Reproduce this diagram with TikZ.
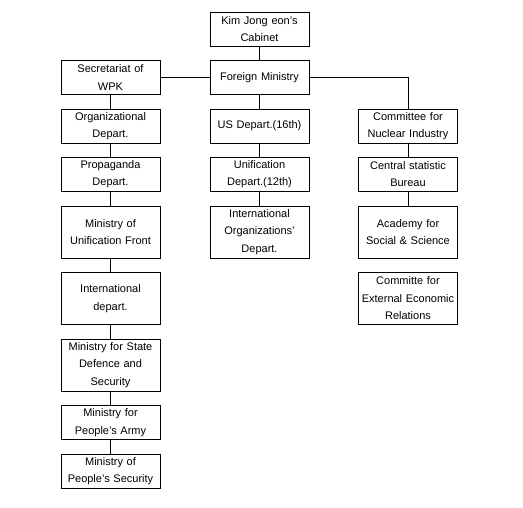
\documentclass[tikz,border=0pt]{standalone}
\usepackage{fontspec}
\setmainfont{Liberation Sans}
\usetikzlibrary{positioning}
\tikzset{
    unit/.style={
        draw,line width=0.7pt,align=center,text width=97pt,
        minimum width=99pt,minimum height=#1,inner sep=1pt,
        font=\fontsize{11}{17.5}\selectfont
    },
    unit/.default=34pt,
    link/.style={line width=0.7pt}
}
\begin{document}
\begin{tikzpicture}[x=1pt,y=-1pt]
\useasboundingbox (0,0) rectangle (523,507);

% top
\node[unit] (cabinet) at (259.5,29) {Kim Jong eon's\\Cabinet};
\node[unit] (foreign) at (259.5,77.5) {Foreign Ministry};

% left column
\node[unit] (wpk) at (110.5,77.5) {Secretariat of\\WPK};
\node[unit] (orgdep) at (110.5,126) {Organizational\\Depart.};
\node[unit] (propdep) at (110.5,174) {Propaganda\\Depart.};
\node[unit=52pt] (front) at (110.5,232) {Ministry of\\Unification Front};
\node[unit=52pt] (intdep) at (110.5,298.5) {International\\depart.};
\node[unit=52pt] (defence) at (110.5,365) {Ministry for State\\Defence and\\Security};
\node[unit] (army) at (110.5,422.5) {Ministry for\\People's Army};
\node[unit] (security) at (110.5,471) {Ministry of\\People's Security};

% middle column
\node[unit] (usdep) at (259.5,126) {US Depart.(16th)};
\node[unit] (unidep) at (259.5,174) {Unification\\Depart.(12th)};
\node[unit=52pt] (intorg) at (259.5,232) {International\\Organizations'\\Depart.};

% right column
\node[unit] (nuclear) at (408,126) {Committee for\\Nuclear Industry};
\node[unit] (stat) at (408,174) {Central statistic\\Bureau};
\node[unit=52pt] (academy) at (408,232) {Academy for\\Social \& Science};
\node[unit=52pt] (external) at (408,298.5) {Committe for\\External Economic\\Relations};

% connectors
\draw[link] (cabinet) -- (foreign);
\draw[link] (wpk) -- (foreign);
\draw[link] (foreign.east) -| (nuclear.north);
\draw[link] (foreign) -- (usdep);
\draw[link] (usdep) -- (unidep);
\draw[link] (unidep) -- (intorg);
\draw[link] (wpk) -- (orgdep);
\draw[link] (orgdep) -- (propdep);
\draw[link] (propdep) -- (front);
\draw[link] (front) -- (intdep);
\draw[link] (intdep) -- (defence);
\draw[link] (defence) -- (army);
\draw[link] (army) -- (security);
\draw[link] (nuclear) -- (stat);
\draw[link] (stat) -- (academy);

\end{tikzpicture}
\end{document}
